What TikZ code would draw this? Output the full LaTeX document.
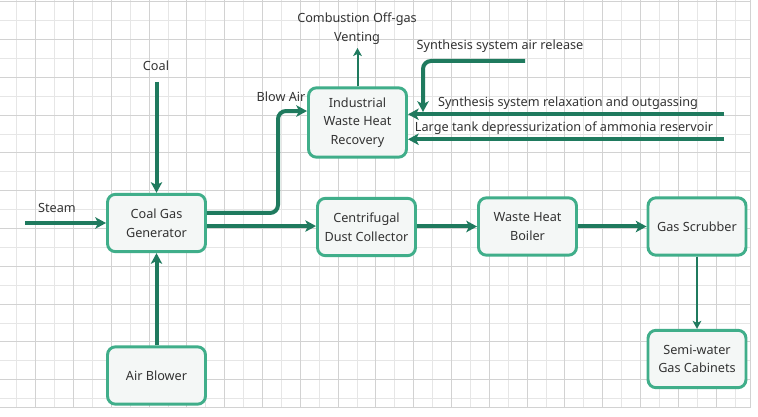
\documentclass[tikz,border=0pt]{standalone}
\usepackage{fontspec}
\setmainfont{Noto Sans}
\usetikzlibrary{arrows.meta}
\definecolor{boxline}{HTML}{40AE8A}
\definecolor{boxfill}{HTML}{F4F7F6}
\definecolor{flowline}{HTML}{1F7A5E}
\definecolor{gridlight}{HTML}{E6E6E6}
\definecolor{griddark}{HTML}{D2D2D2}
\definecolor{labeltext}{HTML}{333333}

\begin{document}
\begin{tikzpicture}[x=0.75pt,y=-0.75pt,
  box/.style={draw=boxline, fill=boxfill, line width=2.2pt, rounded corners=6pt,
    minimum width=73.5pt, minimum height=43pt, align=center, text=labeltext,
    font=\fontsize{9.5}{14}\selectfont},
  tag/.style={text=labeltext, align=center, inner sep=1pt, font=\fontsize{9.5}{14}\selectfont},
  flow/.style={draw=flowline, line width=3pt, -{Stealth[length=8pt,width=8.5pt,inset=2pt]}},
  thinflow/.style={draw=flowline, line width=1.5pt, -{Stealth[length=6pt,width=6.5pt,inset=1.5pt]}}]
% page and grid
\fill[white] (0,0) rectangle (758,417);
\useasboundingbox (0,0) rectangle (758,417);
\foreach \gx in {16.7,54.5,...,750} \draw[gridlight, line width=0.6pt] (\gx,0) -- (\gx,407);
\foreach \gy in {20.6,58.4,...,407} \draw[gridlight, line width=0.6pt] (0,\gy) -- (750,\gy);
\foreach \gx in {35.6,73.4,...,750} \draw[griddark, line width=0.6pt] (\gx,0) -- (\gx,407);
\foreach \gy in {1.7,39.5,...,407} \draw[griddark, line width=0.6pt] (0,\gy) -- (750,\gy);
\draw[griddark, line width=0.6pt] (750,0) -- (750,407) -- (0,407);

% boxes
\node[box] (gen) at (156.5,223) {Coal Gas\\Generator};
\node[box] (blower) at (156.5,375.5) {Air Blower};
\node[box] (dust) at (366.5,227) {Centrifugal\\Dust Collector};
\node[box] (boiler) at (527.5,226.5) {Waste Heat\\Boiler};
\node[box] (scrub) at (697,226.5) {Gas Scrubber};
\node[box] (cab) at (697,359) {Semi-water\\Gas Cabinets};
\node[box, minimum height=52pt] (recov) at (357.5,122.5) {Industrial\\Waste Heat\\Recovery};

% labels
\node[tag] (coal) at (156,66) {Coal};
\node[tag] (steam) at (57,208) {Steam};
\node[tag] (blowair) at (281,97) {Blow Air};
\node[tag] (vent) at (357,29) {Combustion Off-gas\\Venting};
\node[tag] (airrel) at (500,46) {Synthesis system air release};
\node[tag] (relax) at (568,103) {Synthesis system relaxation and outgassing};
\node[tag] (tank) at (564,128) {Large tank depressurization of ammonia reservoir};

% free ends
\coordinate (coalsrc) at (156.5,82);
\coordinate (steamsrc) at (25,223);
\coordinate (blowbend) at (278,160);
\coordinate (ventend) at (357.5,48);
\coordinate (airsrc) at (525,61);
\coordinate (airend) at (423,112);
\coordinate (relaxsrc) at (724,114.3);
\coordinate (tanksrc) at (724,139.3);

% flows
\draw[flow] (coalsrc) -- (gen.north);
\draw[flow] (steamsrc) -- (gen.west);
\draw[flow] (blower.north) -- (gen.south);
\draw[flow] ([yshift=-2.3pt]gen.east) -- ([yshift=-2.3pt]gen.east -| dust.west);
\draw[flow, rounded corners=6pt] ([yshift=7.5pt]gen.east) -| (blowbend) |- ([yshift=8.6pt]recov.west);
\draw[flow] (dust.east |- boiler.west) -- (boiler.west);
\draw[flow] (boiler.east) -- (scrub.west);
\draw[thinflow] (scrub.south) -- (cab.north);
\draw[thinflow] (recov.north) -- (ventend);
\draw[flow, rounded corners=6pt] (airsrc) -| (airend);
\draw[flow] (relaxsrc) -- (relaxsrc -| recov.east);
\draw[flow] (tanksrc) -- (tanksrc -| recov.east);
\end{tikzpicture}
\end{document}
